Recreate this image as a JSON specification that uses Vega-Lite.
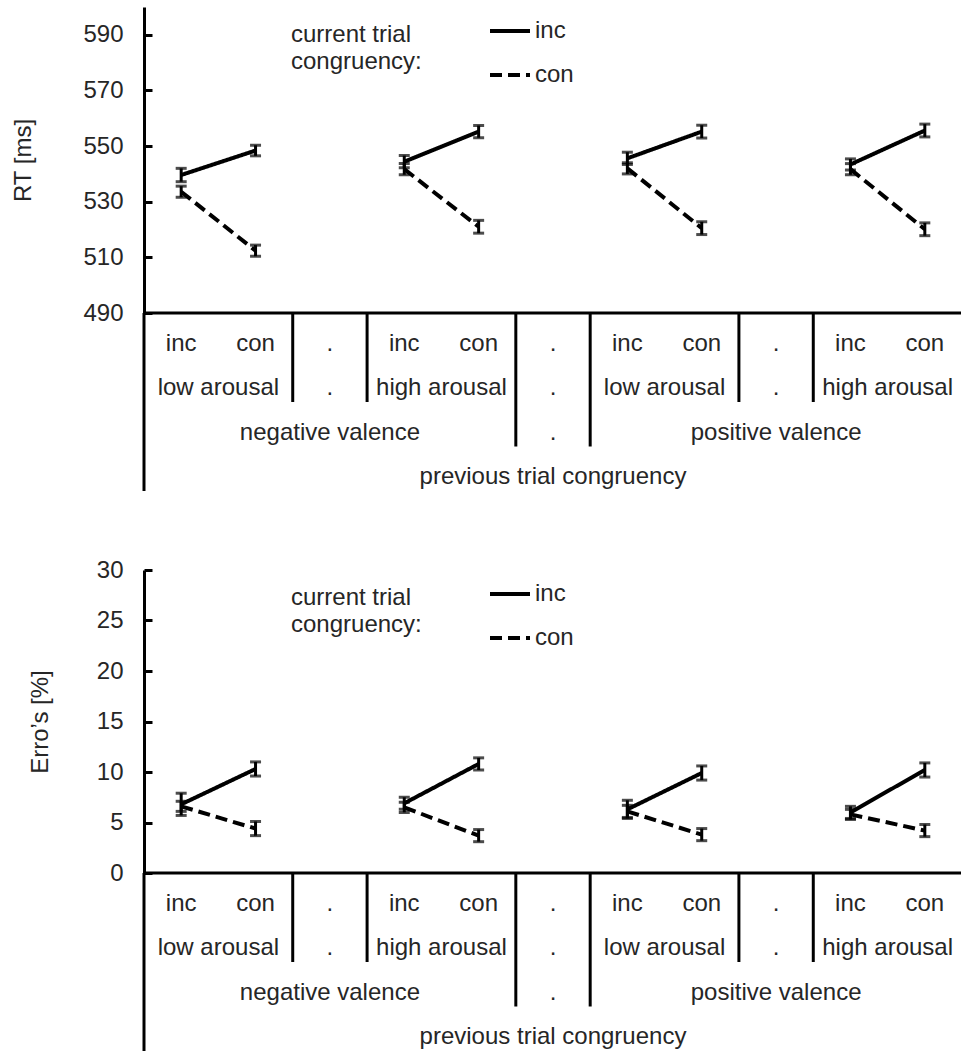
{
  "$schema": "https://vega.github.io/schema/vega-lite/v6.json",
  "padding": {"left": 11, "top": 7, "right": 0, "bottom": 0},
  "spacing": 65,
  "resolve": {"legend": {"strokeDash": "independent"}},
  "config": {
    "view": {"stroke": null},
    "font": "Liberation Sans",
    "axis": {
      "labelFont": "Liberation Sans", "labelFontSize": 24, "labelColor": "#262626",
      "titleFont": "Liberation Sans", "titleFontSize": 24, "titleFontWeight": "normal", "titleColor": "#262626",
      "domainColor": "black", "domainWidth": 3, "tickColor": "black", "tickWidth": 3,
      "tickSize": -8, "labelPadding": 29, "labelFlush": false, "labelOverlap": false, "grid": false
    },
    "legend": {
      "orient": "none", "padding": 0,
      "titleFont": "Liberation Sans", "titleFontSize": 24, "titleFontWeight": "normal", "titleColor": "#262626",
      "titleOrient": "left", "titleAnchor": "middle", "titleAlign": "left", "titlePadding": 66, "titleLineHeight": 27,
      "labelFont": "Liberation Sans", "labelFontSize": 24, "labelColor": "#262626", "labelOffset": 3,
      "symbolType": "stroke", "symbolSize": 1600, "symbolStrokeWidth": 4, "symbolStrokeColor": "black", "rowPadding": 10
    }
  },
  "datasets": {
    "rt": [
      {"slot": "neg-low-inc", "group": "neg-low", "curr": "inc", "mean": 539.6, "se": 2.4},
      {"slot": "neg-low-inc", "group": "neg-low", "curr": "con", "mean": 533.6, "se": 2.0},
      {"slot": "neg-low-con", "group": "neg-low", "curr": "inc", "mean": 548.4, "se": 1.9},
      {"slot": "neg-low-con", "group": "neg-low", "curr": "con", "mean": 512.4, "se": 2.0},
      {"slot": "neg-high-inc", "group": "neg-high", "curr": "inc", "mean": 544.4, "se": 2.2},
      {"slot": "neg-high-inc", "group": "neg-high", "curr": "con", "mean": 541.7, "se": 2.0},
      {"slot": "neg-high-con", "group": "neg-high", "curr": "inc", "mean": 555.2, "se": 2.2},
      {"slot": "neg-high-con", "group": "neg-high", "curr": "con", "mean": 521.0, "se": 2.3},
      {"slot": "pos-low-inc", "group": "pos-low", "curr": "inc", "mean": 545.6, "se": 2.2},
      {"slot": "pos-low-inc", "group": "pos-low", "curr": "con", "mean": 542.0, "se": 2.0},
      {"slot": "pos-low-con", "group": "pos-low", "curr": "inc", "mean": 555.2, "se": 2.3},
      {"slot": "pos-low-con", "group": "pos-low", "curr": "con", "mean": 520.5, "se": 2.3},
      {"slot": "pos-high-inc", "group": "pos-high", "curr": "inc", "mean": 543.4, "se": 2.0},
      {"slot": "pos-high-inc", "group": "pos-high", "curr": "con", "mean": 541.7, "se": 2.0},
      {"slot": "pos-high-con", "group": "pos-high", "curr": "inc", "mean": 555.6, "se": 2.3},
      {"slot": "pos-high-con", "group": "pos-high", "curr": "con", "mean": 520.1, "se": 2.3}
    ],
    "err": [
      {"slot": "neg-low-inc", "group": "neg-low", "curr": "inc", "mean": 6.8, "se": 1.1},
      {"slot": "neg-low-inc", "group": "neg-low", "curr": "con", "mean": 6.6, "se": 0.5},
      {"slot": "neg-low-con", "group": "neg-low", "curr": "inc", "mean": 10.3, "se": 0.7},
      {"slot": "neg-low-con", "group": "neg-low", "curr": "con", "mean": 4.4, "se": 0.7},
      {"slot": "neg-high-inc", "group": "neg-high", "curr": "inc", "mean": 6.9, "se": 0.6},
      {"slot": "neg-high-inc", "group": "neg-high", "curr": "con", "mean": 6.5, "se": 0.5},
      {"slot": "neg-high-con", "group": "neg-high", "curr": "inc", "mean": 10.8, "se": 0.6},
      {"slot": "neg-high-con", "group": "neg-high", "curr": "con", "mean": 3.7, "se": 0.6},
      {"slot": "pos-low-inc", "group": "pos-low", "curr": "inc", "mean": 6.3, "se": 0.9},
      {"slot": "pos-low-inc", "group": "pos-low", "curr": "con", "mean": 6.1, "se": 0.6},
      {"slot": "pos-low-con", "group": "pos-low", "curr": "inc", "mean": 9.9, "se": 0.7},
      {"slot": "pos-low-con", "group": "pos-low", "curr": "con", "mean": 3.8, "se": 0.6},
      {"slot": "pos-high-inc", "group": "pos-high", "curr": "inc", "mean": 6.0, "se": 0.6},
      {"slot": "pos-high-inc", "group": "pos-high", "curr": "con", "mean": 5.8, "se": 0.5},
      {"slot": "pos-high-con", "group": "pos-high", "curr": "inc", "mean": 10.2, "se": 0.7},
      {"slot": "pos-high-con", "group": "pos-high", "curr": "con", "mean": 4.2, "se": 0.6}
    ],
    "hdrCenter": [
      {"slot": "neg-low-inc", "level": 1, "text": "inc"},
      {"slot": "neg-low-con", "level": 1, "text": "con"},
      {"slot": "gap1", "level": 1, "text": "."},
      {"slot": "neg-high-inc", "level": 1, "text": "inc"},
      {"slot": "neg-high-con", "level": 1, "text": "con"},
      {"slot": "gap2", "level": 1, "text": "."},
      {"slot": "pos-low-inc", "level": 1, "text": "inc"},
      {"slot": "pos-low-con", "level": 1, "text": "con"},
      {"slot": "gap3", "level": 1, "text": "."},
      {"slot": "pos-high-inc", "level": 1, "text": "inc"},
      {"slot": "pos-high-con", "level": 1, "text": "con"},
      {"slot": "gap1", "level": 2, "text": "."},
      {"slot": "gap2", "level": 2, "text": "."},
      {"slot": "gap3", "level": 2, "text": "."},
      {"slot": "gap1", "level": 3, "text": "negative valence"},
      {"slot": "gap2", "level": 3, "text": "."},
      {"slot": "gap3", "level": 3, "text": "positive valence"},
      {"slot": "gap2", "level": 4, "text": "previous trial congruency"}
    ],
    "hdrBoundary": [
      {"slot": "neg-low-inc", "level": 2, "text": "low arousal"},
      {"slot": "neg-high-inc", "level": 2, "text": "high arousal"},
      {"slot": "pos-low-inc", "level": 2, "text": "low arousal"},
      {"slot": "pos-high-inc", "level": 2, "text": "high arousal"}
    ],
    "seps": [
      {"slot": "neg-low-inc", "from": 0, "span": 4},
      {"slot": "gap1", "from": 0, "span": 2},
      {"slot": "neg-high-inc", "from": 0, "span": 2},
      {"slot": "gap2", "from": 0, "span": 3},
      {"slot": "pos-low-inc", "from": 0, "span": 3},
      {"slot": "gap3", "from": 0, "span": 2},
      {"slot": "pos-high-inc", "from": 0, "span": 2}
    ],
    "topEdge": [{"from": 0}]
  },
  "vconcat": [
    {
      "spacing": 0,
      "bounds": "flush",
      "vconcat": [
        {
          "width": 818, "height": 306,
          "data": {"name": "rt"},
          "layer": [
            {
              "mark": {"type": "line", "strokeWidth": 4, "color": "black"},
              "encoding": {
                "x": {"field": "slot", "type": "nominal", "scale": {"type": "band", "domain": ["neg-low-inc", "neg-low-con", "gap1", "neg-high-inc", "neg-high-con", "gap2", "pos-low-inc", "pos-low-con", "gap3", "pos-high-inc", "pos-high-con"], "paddingInner": 0, "paddingOuter": 0}, "axis": null},
                "y": {"field": "mean", "type": "quantitative", "title": "RT [ms]", "scale": {"domain": [490, 600], "nice": false, "zero": false}, "axis": {"title": "RT [ms]", "values": [490, 510, 530, 550, 570, 590], "titlePadding": 47}},
                "strokeDash": {"field": "curr", "type": "nominal", "scale": {"domain": ["inc", "con"], "range": [[1, 0], [12, 6]]}, "legend": {"title": ["current trial", "congruency:"], "legendX": 147, "legendY": 2}},
                "detail": {"field": "group", "type": "nominal"}
              }
            },
            {
              "mark": {"type": "errorbar", "color": "black", "thickness": 3, "ticks": {"size": 11, "thickness": 3, "color": "black"}},
              "encoding": {
                "x": {"field": "slot", "type": "nominal"},
                "y": {"field": "mean", "type": "quantitative", "title": "RT [ms]"},
                "yError": {"field": "se"}
              }
            }
          ]
        },
        {
          "width": 818, "height": 178,
          "layer": [
            {
              "data": {"name": "hdrCenter"},
              "mark": {"type": "text", "fontSize": 24, "baseline": "middle", "dy": -14, "color": "#262626"},
              "encoding": {
                "x": {"field": "slot", "type": "nominal", "scale": {"type": "band", "domain": ["neg-low-inc", "neg-low-con", "gap1", "neg-high-inc", "neg-high-con", "gap2", "pos-low-inc", "pos-low-con", "gap3", "pos-high-inc", "pos-high-con"], "paddingInner": 0, "paddingOuter": 0}, "axis": null},
                "y": {"field": "level", "type": "quantitative", "scale": {"domain": [0, 4], "reverse": true, "nice": false, "zero": false}, "axis": null},
                "text": {"field": "text", "type": "nominal"}
              }
            },
            {
              "data": {"name": "hdrBoundary"},
              "mark": {"type": "text", "fontSize": 24, "baseline": "middle", "dy": -14, "color": "#262626"},
              "encoding": {
                "x": {"field": "slot", "type": "nominal", "bandPosition": 1},
                "y": {"field": "level", "type": "quantitative"},
                "text": {"field": "text", "type": "nominal"}
              }
            },
            {
              "data": {"name": "seps"},
              "mark": {"type": "rule", "strokeWidth": 3, "color": "black"},
              "encoding": {
                "x": {"field": "slot", "type": "nominal", "bandPosition": 0},
                "y": {"field": "from", "type": "quantitative"},
                "y2": {"field": "span"}
              }
            },
            {
              "data": {"name": "topEdge"},
              "mark": {"type": "rule", "strokeWidth": 3, "color": "black"},
              "encoding": {"y": {"field": "from", "type": "quantitative"}}
            }
          ]
        }
      ]
    },
    {
      "spacing": 0,
      "bounds": "flush",
      "vconcat": [
        {
          "width": 818, "height": 303,
          "data": {"name": "err"},
          "layer": [
            {
              "mark": {"type": "line", "strokeWidth": 4, "color": "black"},
              "encoding": {
                "x": {"field": "slot", "type": "nominal", "scale": {"type": "band", "domain": ["neg-low-inc", "neg-low-con", "gap1", "neg-high-inc", "neg-high-con", "gap2", "pos-low-inc", "pos-low-con", "gap3", "pos-high-inc", "pos-high-con"], "paddingInner": 0, "paddingOuter": 0}, "axis": null},
                "y": {"field": "mean", "type": "quantitative", "title": "Erro’s [%]", "scale": {"domain": [0, 30], "nice": false, "zero": false}, "axis": {"title": "Erro’s [%]", "values": [0, 5, 10, 15, 20, 25, 30], "titlePadding": 44}},
                "strokeDash": {"field": "curr", "type": "nominal", "scale": {"domain": ["inc", "con"], "range": [[1, 0], [12, 6]]}, "legend": {"title": ["current trial", "congruency:"], "legendX": 147, "legendY": 2}},
                "detail": {"field": "group", "type": "nominal"}
              }
            },
            {
              "mark": {"type": "errorbar", "color": "black", "thickness": 3, "ticks": {"size": 11, "thickness": 3, "color": "black"}},
              "encoding": {
                "x": {"field": "slot", "type": "nominal"},
                "y": {"field": "mean", "type": "quantitative", "title": "Erro’s [%]"},
                "yError": {"field": "se"}
              }
            }
          ]
        },
        {
          "width": 818, "height": 178,
          "layer": [
            {
              "data": {"name": "hdrCenter"},
              "mark": {"type": "text", "fontSize": 24, "baseline": "middle", "dy": -14, "color": "#262626"},
              "encoding": {
                "x": {"field": "slot", "type": "nominal", "scale": {"type": "band", "domain": ["neg-low-inc", "neg-low-con", "gap1", "neg-high-inc", "neg-high-con", "gap2", "pos-low-inc", "pos-low-con", "gap3", "pos-high-inc", "pos-high-con"], "paddingInner": 0, "paddingOuter": 0}, "axis": null},
                "y": {"field": "level", "type": "quantitative", "scale": {"domain": [0, 4], "reverse": true, "nice": false, "zero": false}, "axis": null},
                "text": {"field": "text", "type": "nominal"}
              }
            },
            {
              "data": {"name": "hdrBoundary"},
              "mark": {"type": "text", "fontSize": 24, "baseline": "middle", "dy": -14, "color": "#262626"},
              "encoding": {
                "x": {"field": "slot", "type": "nominal", "bandPosition": 1},
                "y": {"field": "level", "type": "quantitative"},
                "text": {"field": "text", "type": "nominal"}
              }
            },
            {
              "data": {"name": "seps"},
              "mark": {"type": "rule", "strokeWidth": 3, "color": "black"},
              "encoding": {
                "x": {"field": "slot", "type": "nominal", "bandPosition": 0},
                "y": {"field": "from", "type": "quantitative"},
                "y2": {"field": "span"}
              }
            },
            {
              "data": {"name": "topEdge"},
              "mark": {"type": "rule", "strokeWidth": 3, "color": "black"},
              "encoding": {"y": {"field": "from", "type": "quantitative"}}
            }
          ]
        }
      ]
    }
  ]
}
